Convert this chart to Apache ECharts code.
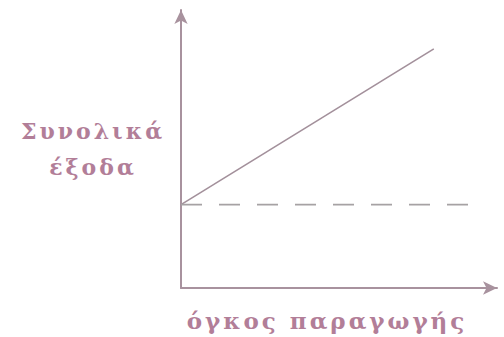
<!DOCTYPE html>
<html>
<head>
<meta charset="utf-8">
<script src="https://cdn.jsdelivr.net/npm/echarts@6/dist/echarts.min.js"></script>
<style>
  html, body { margin: 0; padding: 0; background: #ffffff; }
  #chart { width: 504px; height: 337px; }
  /* tracked serif lettering for the axis titles */
  #chart svg text { letter-spacing: 3px; }
</style>
</head>
<body>
<div id="chart"></div>
<script>
// Output quantity (x) and costs (y), in arbitrary units
const quantity = [0, 80];
const totalCost = [30, 86];
const fixedQuantity = [0, 94];
const fixedCost = [30, 30];

const xTitle = 'όγκος παραγωγής';
const yTitle = 'Συνολικά\nέξοδα';

const axisColor = '#a8929e';
const textColor = '#b27e98';

const chart = echarts.init(document.getElementById('chart'), null, { renderer: 'svg' });

const toPairs = (xs, ys) => xs.map((x, i) => [x, ys[i]]);

const titleStyle = {
  fontFamily: 'DejaVu Serif',
  fontWeight: 'bold',
  color: textColor
};

chart.setOption({
  animation: false,
  backgroundColor: '#ffffff',
  grid: { left: 181, right: 7, top: 10, bottom: 49 },
  xAxis: {
    type: 'value',
    min: 0,
    max: 100,
    name: xTitle,
    nameLocation: 'middle',
    nameGap: 32,
    nameTextStyle: Object.assign({}, titleStyle, {
      fontSize: 23,
      verticalAlign: 'middle',
      padding: [0, 24, 0, 0]
    }),
    axisLine: {
      show: true,
      symbol: ['none', 'arrow'],
      symbolSize: [10, 14],
      lineStyle: { color: axisColor, width: 2 }
    },
    axisTick: { show: false },
    axisLabel: { show: false },
    splitLine: { show: false }
  },
  yAxis: {
    type: 'value',
    min: 0,
    max: 100,
    name: yTitle,
    nameLocation: 'middle',
    nameRotate: 0,
    nameGap: 88,
    nameTextStyle: Object.assign({}, titleStyle, {
      fontSize: 22,
      lineHeight: 36,
      align: 'center',
      verticalAlign: 'middle'
    }),
    axisLine: {
      show: true,
      symbol: ['none', 'arrow'],
      symbolSize: [10, 14],
      lineStyle: { color: axisColor, width: 2 }
    },
    axisTick: { show: false },
    axisLabel: { show: false },
    splitLine: { show: false }
  },
  series: [
    {
      name: 'total',
      type: 'line',
      data: toPairs(quantity, totalCost),
      symbol: 'none',
      lineStyle: { color: '#a3909b', width: 1.6 }
    },
    {
      name: 'fixed',
      type: 'line',
      data: toPairs(fixedQuantity, fixedCost),
      symbol: 'none',
      lineStyle: { color: '#a6a2a4', width: 1.6, type: [21, 17] }
    }
  ]
});
</script>
</body>
</html>
